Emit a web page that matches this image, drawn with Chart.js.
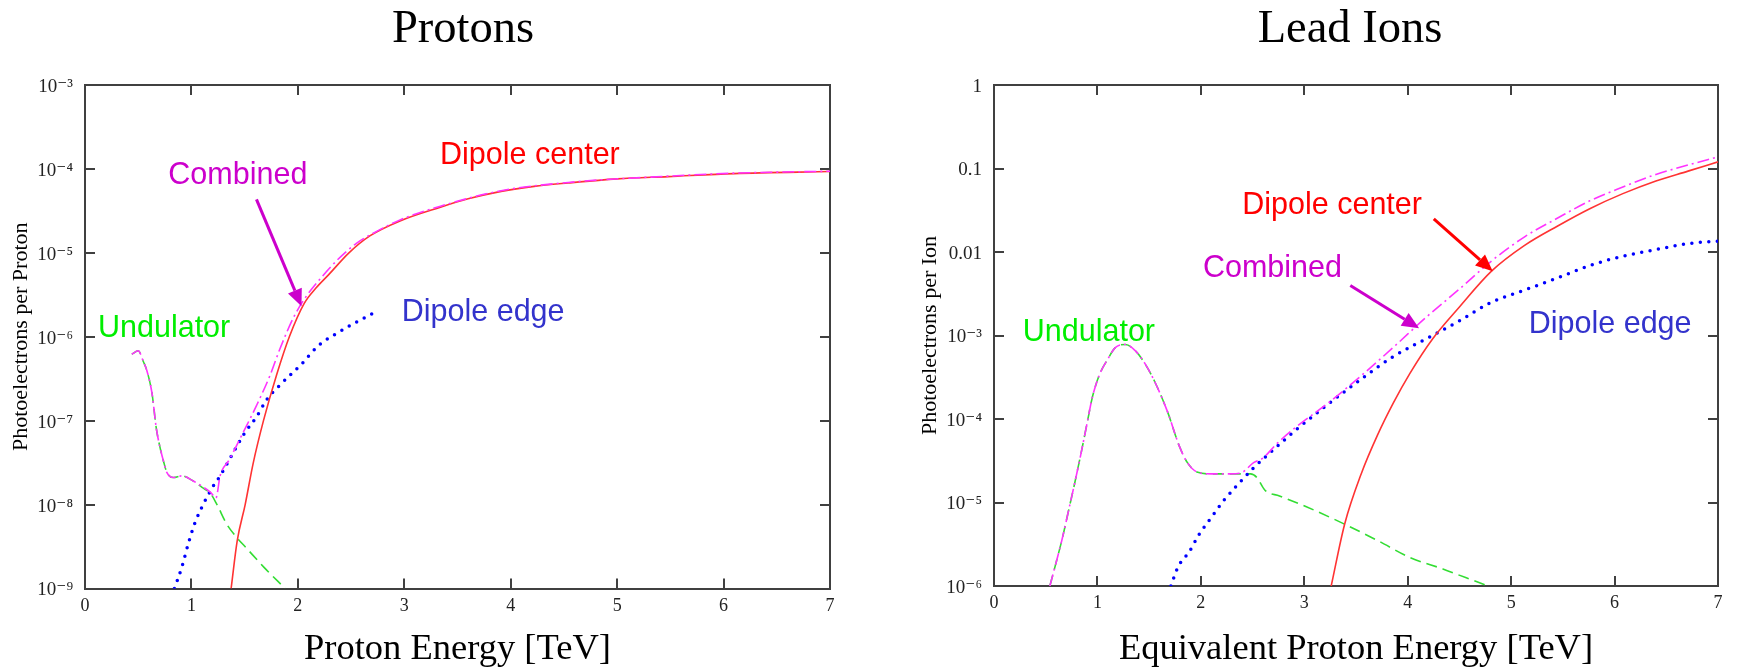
<!DOCTYPE html>
<html>
<head>
<meta charset="utf-8">
<title>Photoelectrons per particle</title>
<script src="https://cdn.jsdelivr.net/npm/chart.js@4.4.1/dist/chart.umd.min.js"></script>
<style>
  html, body { margin: 0; padding: 0; background: #fff; }
  #wrap { position: relative; width: 1739px; height: 672px; overflow: hidden; }
  canvas { position: absolute; top: 0; }
  #protons { left: 0; }
  #ions { left: 870px; }
</style>
</head>
<body>
<div id="wrap">
  <canvas id="protons" width="870" height="672"></canvas>
  <canvas id="ions" width="869" height="672"></canvas>
</div>
<script>
// x axis (TeV)
const energyTicks = [0, 1, 2, 3, 4, 5, 6, 7];
const energyTickLabels = ['0', '1', '2', '3', '4', '5', '6', '7'];

// y axes (decades)
const protonTicks = [1e-9, 1e-8, 1e-7, 1e-6, 1e-5, 1e-4, 1e-3];
const protonTickLabels = ['10⁻⁹', '10⁻⁸', '10⁻⁷', '10⁻⁶', '10⁻⁵', '10⁻⁴', '10⁻³'];
const ionTicks = [1e-6, 1e-5, 1e-4, 1e-3, 0.01, 0.1, 1];
const ionTickLabels = ['10⁻⁶', '10⁻⁵', '10⁻⁴', '10⁻³', '0.01', '0.1', '1'];

// Protons: values
const protonCenterE = [1.373, 1.43, 1.505, 1.58, 1.677, 1.80, 1.92, 2.06, 2.17, 2.29, 2.48, 2.68, 2.96, 3.34, 3.6, 3.91, 4.22, 4.54, 5.0, 5.48, 6.1, 7.0];
const protonCenterY = [1.0e-9, 3.7e-9, 1.0e-8, 3.1e-8, 1.0e-7, 3.5e-7, 1.0e-6, 2.5e-6, 3.8e-6, 5.5e-6, 1.0e-5, 1.6e-5, 2.4e-5, 3.5e-5, 4.4e-5, 5.4e-5, 6.2e-5, 6.8e-5, 7.6e-5, 8.1e-5, 8.8e-5, 9.3e-5];

const protonEdgeE = [0.84, 0.91, 0.97, 1.03, 1.11, 1.21, 1.27, 1.36, 1.50, 1.61, 1.71, 1.85, 2.04, 2.19, 2.34, 2.51, 2.74];
const protonEdgeY = [1.0e-9, 1.8e-9, 3.4e-9, 5.9e-9, 1.0e-8, 1.7e-8, 2.2e-8, 3.5e-8, 7.1e-8, 1.1e-7, 1.8e-7, 2.8e-7, 4.8e-7, 7.8e-7, 1.05e-6, 1.4e-6, 2.0e-6];

const protonUndE = [0.44, 0.50, 0.55, 0.58, 0.63, 0.67, 0.71, 0.74, 0.77, 0.83, 0.91, 1.02, 1.10, 1.18, 1.24, 1.33, 1.43, 1.52, 1.68, 1.88];
const protonUndY = [6.2e-7, 6.8e-7, 5.0e-7, 4.0e-7, 2.1e-7, 8.1e-8, 4.5e-8, 3.2e-8, 2.4e-8, 2.1e-8, 2.2e-8, 1.9e-8, 1.6e-8, 1.35e-8, 1.0e-8, 5.9e-9, 4.0e-9, 3.0e-9, 1.8e-9, 1.0e-9];

const protonCombE = [0.44, 0.50, 0.55, 0.58, 0.63, 0.67, 0.71, 0.74, 0.77, 0.83, 0.91, 1.02, 1.10, 1.18, 1.23, 1.27, 1.36, 1.49, 1.61, 1.74, 1.83, 1.96, 2.06, 2.21, 2.37, 2.55, 2.74, 2.97, 3.34, 3.91, 4.54, 5.48, 6.1, 7.0];
const protonCombY = [6.2e-7, 6.8e-7, 5.0e-7, 4.0e-7, 2.1e-7, 8.1e-8, 4.5e-8, 3.2e-8, 2.4e-8, 2.1e-8, 2.2e-8, 1.9e-8, 1.65e-8, 1.4e-8, 1.2e-8, 2.2e-8, 3.5e-8, 7.4e-8, 1.5e-7, 3.5e-7, 7.1e-7, 1.7e-6, 2.8e-6, 4.9e-6, 8.2e-6, 1.3e-5, 1.8e-5, 2.5e-5, 3.6e-5, 5.5e-5, 6.9e-5, 8.2e-5, 8.9e-5, 9.4e-5];

// Lead ions
const ionCenterE = [3.26, 3.39, 3.55, 3.71, 3.86, 4.02, 4.24, 4.50, 4.81, 5.13, 5.45, 5.76, 6.08, 6.40, 6.71, 7.0];
const ionCenterY = [1.0e-6, 5.5e-6, 2.2e-5, 6.5e-5, 1.55e-4, 3.5e-4, 9.1e-4, 2.2e-3, 5.9e-3, 1.2e-2, 2.05e-2, 3.3e-2, 5.0e-2, 7.1e-2, 9.3e-2, 0.12];

const ionEdgeE = [1.71, 1.78, 1.89, 1.98, 2.10, 2.22, 2.35, 2.51, 2.73, 2.92, 3.23, 3.55, 3.86, 4.24, 4.50, 4.81, 5.13, 5.45, 5.76, 6.08, 6.40, 6.71, 7.0];
const ionEdgeY = [1.0e-6, 1.7e-6, 2.6e-6, 4.1e-6, 6.6e-6, 1.05e-5, 1.6e-5, 2.6e-5, 4.6e-5, 7.4e-5, 1.5e-4, 3.0e-4, 5.6e-4, 1.0e-3, 1.5e-3, 2.5e-3, 3.5e-3, 4.9e-3, 6.9e-3, 8.9e-3, 1.07e-2, 1.26e-2, 1.35e-2];

const ionUndE = [0.54, 0.60, 0.66, 0.72, 0.78, 0.84, 0.90, 0.95, 1.02, 1.10, 1.17, 1.27, 1.37, 1.46, 1.56, 1.68, 1.79, 1.87, 1.97, 2.10, 2.29, 2.48, 2.54, 2.62, 2.76, 3.02, 3.39, 3.71, 4.02, 4.34, 4.56, 4.78];
const ionUndY = [1.0e-6, 1.9e-6, 3.7e-6, 7.9e-6, 1.7e-5, 3.8e-5, 8.9e-5, 1.8e-4, 3.4e-4, 5.2e-4, 7.1e-4, 7.8e-4, 6.5e-4, 4.6e-4, 2.7e-4, 1.2e-4, 4.8e-5, 3.0e-5, 2.3e-5, 2.2e-5, 2.2e-5, 2.2e-5, 2.0e-5, 1.4e-5, 1.2e-5, 8.9e-6, 5.5e-6, 3.5e-6, 2.2e-6, 1.6e-6, 1.26e-6, 1.0e-6];

const ionCombE = [0.54, 0.60, 0.66, 0.72, 0.78, 0.84, 0.90, 0.95, 1.02, 1.10, 1.17, 1.27, 1.37, 1.46, 1.56, 1.68, 1.79, 1.87, 1.97, 2.10, 2.29, 2.40, 2.51, 2.60, 2.73, 2.92, 3.23, 3.55, 3.86, 4.18, 4.50, 4.81, 5.13, 5.45, 5.76, 6.08, 6.40, 6.71, 7.0];
const ionCombY = [1.0e-6, 1.9e-6, 3.7e-6, 7.9e-6, 1.7e-5, 3.8e-5, 8.9e-5, 1.8e-4, 3.4e-4, 5.2e-4, 7.1e-4, 7.8e-4, 6.5e-4, 4.6e-4, 2.7e-4, 1.2e-4, 4.8e-5, 3.0e-5, 2.3e-5, 2.2e-5, 2.2e-5, 2.3e-5, 3.0e-5, 3.4e-5, 5.0e-5, 8.0e-5, 1.55e-4, 3.3e-4, 7.2e-4, 1.66e-3, 3.6e-3, 7.8e-3, 1.52e-2, 2.55e-2, 4.1e-2, 6.0e-2, 8.5e-2, 0.11, 0.138];

const AXIS = '#404040';
const SERIF = '"Liberation Serif", "Times New Roman", "DejaVu Serif", serif';
const SANS = '"Liberation Sans", Arial, "DejaVu Sans", sans-serif';

const lineStyles = {
  combined:  { borderColor: '#ff33ff', borderWidth: 1.6, borderDash: [12, 4, 2, 4] },
  center:    { borderColor: '#ff3333', borderWidth: 1.6 },
  edge:      { borderColor: '#0000ff', borderWidth: 3.5, borderDash: [0, 8.5], borderCapStyle: 'round' },
  undulator: { borderColor: '#33dd33', borderWidth: 1.6, borderDash: [11, 6] }
};

function series(xs, ys, style) {
  return Object.assign({
    data: xs.map((x, i) => ({ x: x, y: ys[i] })),
    pointRadius: 0,
    fill: false,
    cubicInterpolationMode: 'monotone'
  }, style);
}

// titles, curve labels and arrows
function overlay(c) {
  return {
    id: 'overlay',
    afterDraw(chart) {
      const ctx = chart.ctx;
      const xs = chart.scales.x, ys = chart.scales.y;
      const px = v => xs.getPixelForValue(v);
      const py = e => ys.getPixelForValue(Math.pow(10, e));
      ctx.save();
      ctx.fillStyle = '#000';
      ctx.font = '46.5px ' + SERIF;
      ctx.textAlign = 'center';
      ctx.textBaseline = 'alphabetic';
      ctx.fillText(c.title, c.titleX, 42);

      ctx.font = '30.5px ' + SANS;
      ctx.textAlign = 'left';
      ctx.textBaseline = 'middle';
      c.notes.forEach(n => {
        ctx.fillStyle = n.color;
        ctx.fillText(n.text, px(n.x), py(n.logY));
      });

      c.arrows.forEach(a => {
        const x1 = px(a.from[0]), y1 = py(a.from[1]);
        const x2 = px(a.to[0]), y2 = py(a.to[1]);
        const ang = Math.atan2(y2 - y1, x2 - x1);
        const cos = Math.cos(ang), sin = Math.sin(ang);
        const head = 17, half = 7.5;
        ctx.strokeStyle = a.color;
        ctx.fillStyle = a.color;
        ctx.lineWidth = 3;
        ctx.beginPath();
        ctx.moveTo(x1, y1);
        ctx.lineTo(x2 - head * cos, y2 - head * sin);
        ctx.stroke();
        ctx.beginPath();
        ctx.moveTo(x2, y2);
        ctx.lineTo(x2 - head * cos + half * sin, y2 - head * sin - half * cos);
        ctx.lineTo(x2 - head * cos - half * sin, y2 - head * sin + half * cos);
        ctx.closePath();
        ctx.fill();
      });
      ctx.restore();
    }
  };
}

function makeChart(id, c) {
  const grid = { drawOnChartArea: false, drawTicks: true, tickLength: -10, color: AXIS, lineWidth: 2 };
  const border = { display: true, color: AXIS, width: 2 };
  const setX = s => { s.ticks = energyTicks.map(v => ({ value: v })); };
  const setY = s => { s.ticks = c.yTicks.map(v => ({ value: v })); };
  const yMin = c.yTicks[0], yMax = c.yTicks[c.yTicks.length - 1];

  new Chart(document.getElementById(id), {
    type: 'line',
    data: { datasets: c.datasets },
    options: {
      responsive: false,
      animation: false,
      devicePixelRatio: 1,
      layout: { padding: { left: 0, top: 85, right: c.padRight, bottom: 0 } },
      plugins: { legend: { display: false }, tooltip: { enabled: false } },
      scales: {
        x: {
          type: 'linear', position: 'bottom', min: 0, max: 7,
          afterBuildTicks: setX,
          afterFit: s => { s.height = c.bottomH; },
          ticks: { autoSkip: false, maxRotation: 0, padding: 16.5, color: '#222',
                   font: { family: SERIF, size: 18 },
                   callback: (v, i) => energyTickLabels[i] },
          grid: grid, border: border,
          title: { display: true, text: c.xTitle, color: '#000',
                   font: { family: SERIF, size: 36.5, lineHeight: 1 }, padding: { top: 0, bottom: 4 } }
        },
        y: {
          type: 'logarithmic', position: 'left', min: yMin, max: yMax,
          afterBuildTicks: setY,
          afterFit: s => { s.width = c.leftW; },
          ticks: { autoSkip: false, padding: 22, labelOffset: 2, color: '#222',
                   font: { family: SERIF, size: 19 },
                   callback: (v, i) => c.yLabels[i] },
          grid: grid, border: border,
          title: { display: true, text: c.yTitle, color: '#000',
                   font: { family: SERIF, size: 22, lineHeight: 1 }, padding: { top: c.yTitlePad, bottom: 0 } }
        },
        x2: {
          type: 'linear', position: 'top', min: 0, max: 7,
          afterBuildTicks: setX,
          afterFit: s => { s.height = 0; },
          ticks: { display: false },
          grid: grid, border: border
        },
        y2: {
          type: 'logarithmic', position: 'right', min: yMin, max: yMax,
          afterBuildTicks: setY,
          afterFit: s => { s.width = 0; },
          ticks: { display: false },
          grid: grid, border: border
        }
      }
    },
    plugins: [overlay(c)]
  });
}

makeChart('protons', {
  title: 'Protons', titleX: 463,
  xTitle: 'Proton Energy [TeV]',
  yTitle: 'Photoelectrons per Proton',
  yTicks: protonTicks, yLabels: protonTickLabels,
  leftW: 85, padRight: 40, bottomH: 83.5, yTitlePad: 10.7,
  datasets: [
    series(protonCombE, protonCombY, lineStyles.combined),
    series(protonCenterE, protonCenterY, lineStyles.center),
    series(protonEdgeE, protonEdgeY, lineStyles.edge),
    series(protonUndE, protonUndY, lineStyles.undulator)
  ],
  notes: [
    { text: 'Combined', x: 0.783, logY: -4.074, color: '#cc00cc' },
    { text: 'Undulator', x: 0.122, logY: -5.899, color: '#00ee00' },
    { text: 'Dipole center', x: 3.336, logY: -3.840, color: '#ff0000' },
    { text: 'Dipole edge', x: 2.976, logY: -5.717, color: '#3333cc' }
  ],
  arrows: [
    { from: [1.611, -4.362], to: [2.034, -5.638], color: '#cc00cc' }
  ]
});

makeChart('ions', {
  title: 'Lead Ions', titleX: 480,
  xTitle: 'Equivalent Proton Energy [TeV]',
  yTitle: 'Photoelectrons per Ion',
  yTicks: ionTicks, yLabels: ionTickLabels,
  leftW: 124, padRight: 8, bottomH: 86, yTitlePad: 49.7,
  datasets: [
    series(ionCombE, ionCombY, lineStyles.combined),
    series(ionCenterE, ionCenterY, lineStyles.center),
    series(ionEdgeE, ionEdgeY, lineStyles.edge),
    series(ionUndE, ionUndY, lineStyles.undulator)
  ],
  notes: [
    { text: 'Dipole center', x: 2.40, logY: -1.443, color: '#ff0000' },
    { text: 'Combined', x: 2.020, logY: -2.202, color: '#cc00cc' },
    { text: 'Undulator', x: 0.278, logY: -2.961, color: '#00ee00' },
    { text: 'Dipole edge', x: 5.170, logY: -2.865, color: '#3333cc' }
  ],
  arrows: [
    { from: [4.252, -1.602], to: [4.822, -2.231], color: '#ff0000' },
    { from: [3.445, -2.402], to: [4.110, -2.914], color: '#cc00cc' }
  ]
});
</script>
</body>
</html>
